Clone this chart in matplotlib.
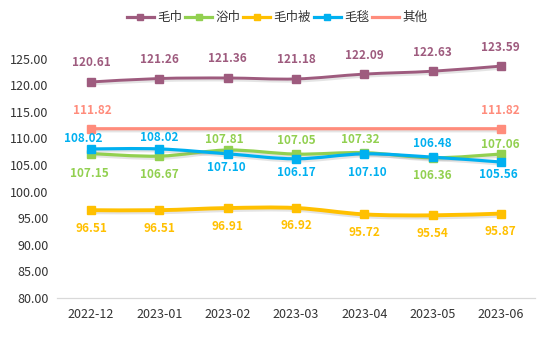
import numpy as np
import matplotlib
matplotlib.use("Agg")
import matplotlib.pyplot as plt
import matplotlib.patheffects as pe
from matplotlib.path import Path
from matplotlib.patches import PathPatch
from matplotlib.lines import Line2D

plt.rcParams['font.family'] = ['Noto Sans CJK SC', 'DejaVu Sans']

# data
months = ['2022-12', '2023-01', '2023-02', '2023-03', '2023-04', '2023-05', '2023-06']
towel = [120.61, 121.26, 121.36, 121.18, 122.09, 122.63, 123.59]        # 毛巾
bath_towel = [107.15, 106.67, 107.81, 107.05, 107.32, 106.36, 107.06]   # 浴巾
towel_quilt = [96.51, 96.51, 96.91, 96.92, 95.72, 95.54, 95.87]         # 毛巾被
blanket = [108.02, 108.02, 107.10, 106.17, 107.10, 106.48, 105.56]      # 毛毯
other = [111.82, 111.82, 111.82, 111.82, 111.82, 111.82, 111.82]        # 其他

names = ['毛巾', '浴巾', '毛巾被', '毛毯', '其他']
colors = ['#9E5B7E', '#92D050', '#FFC000', '#00B0F0', '#FF8C7C']

# label offsets in pixels (dx, dy)
towel_off = [(0, 19)] * 7
bath_off = [(-2, -20), (0, -18), (-3, 11), (0, 14), (-4, 13), (0, -18), (-1, 10)]
quilt_off = [(0, -18)] * 7
blanket_off = [(-8, 10), (0, 11), (-1, -14), (0, -14), (3, -19), (0, 14), (-2, -12)]
other_off = [(1, 18), None, None, None, None, None, (0, 18)]


def smooth_path(x, y):
    # Catmull-Rom -> cubic bezier, drawn by matplotlib's own curve code
    pts = np.column_stack([x, y]).astype(float)
    verts = [pts[0]]
    codes = [Path.MOVETO]
    n = len(pts)
    for i in range(n - 1):
        p0 = pts[i - 1] if i > 0 else pts[i]
        p1 = pts[i]
        p2 = pts[i + 1]
        p3 = pts[i + 2] if i + 2 < n else pts[i + 1]
        c1 = p1 + (p2 - p0) / 6.0
        c2 = p2 - (p3 - p1) / 6.0
        verts += [c1, c2, p2]
        codes += [Path.CURVE4] * 3
    return Path(verts, codes)


fig = plt.figure(figsize=(5.54, 3.38), dpi=100)
ax = fig.add_axes([0.1029, 0.1183, 0.8628, 0.7083])

x = np.arange(len(months))
series = [towel, bath_towel, towel_quilt, blanket, other]
offsets = [towel_off, bath_off, quilt_off, blanket_off, other_off]
widths = [2.1, 2.3, 2.8, 2.3, 2.3]

shadow = [pe.SimpleLineShadow(offset=(1, -1.5), shadow_color='#888888', alpha=0.22), pe.Normal()]

for vals, col, lw, offs, name in zip(series, colors, widths, offsets, names):
    patch = PathPatch(smooth_path(x, vals), fill=False, edgecolor=col, lw=lw,
                      capstyle='round', joinstyle='round', zorder=3)
    patch.set_path_effects(shadow)
    ax.add_patch(patch)
    if name == '其他':
        mx = [x[0], x[-1]]
        my = [vals[0], vals[-1]]
    else:
        mx, my = x, vals
    ax.plot(mx, my, 's', color=col, ms=5.5, zorder=4)
    for xi, v, off in zip(x, vals, offs):
        if off is None:
            continue
        ax.annotate(f'{v:.2f}', (xi, v), xytext=off, textcoords='offset pixels',
                    ha='center', va='center', fontsize=8.5, fontweight='bold',
                    color=col, zorder=5)

ax.set_xlim(-0.5, len(months) - 0.5)
ax.set_ylim(80, 125)
ax.set_yticks(np.arange(80, 126, 5))
ax.set_yticklabels([f'{t:.2f}' for t in np.arange(80, 126, 5)])
ax.set_xticks(x)
ax.set_xticklabels(months)
ax.tick_params(axis='both', length=0, labelsize=9, labelcolor='#333333')
ax.tick_params(axis='y', pad=6)
ax.tick_params(axis='x', pad=7)

for s in ['top', 'right', 'left']:
    ax.spines[s].set_visible(False)
ax.spines['bottom'].set_color('#D9D9D9')
ax.spines['bottom'].set_linewidth(0.9)

handles = []
for name, col in zip(names, colors):
    mk = None if name == '其他' else 's'
    handles.append(Line2D([], [], color=col, lw=2.3, marker=mk, ms=5))
fig.legend(handles, names, loc='center', bbox_to_anchor=(0.5, 0.948), ncol=5,
           frameon=False, fontsize=9, handlelength=2.2, handletextpad=0.25,
           columnspacing=0.2, labelcolor='#333333')

fig.savefig('out.png', dpi=100)
